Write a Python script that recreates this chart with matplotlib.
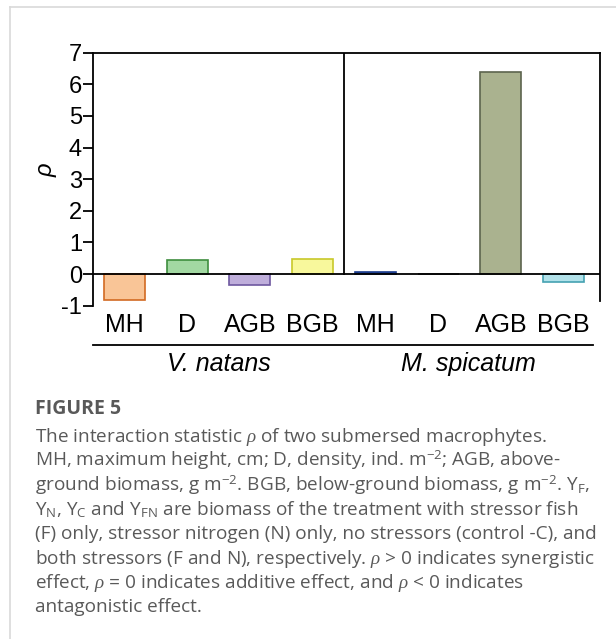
import matplotlib
matplotlib.use('Agg')
import matplotlib.pyplot as plt
from matplotlib.lines import Line2D

plt.rcParams['font.family'] = ['Liberation Sans', 'DejaVu Sans']
plt.rcParams['axes.unicode_minus'] = False
plt.rcParams['mathtext.fontset'] = 'custom'
plt.rcParams['mathtext.rm'] = 'Open Sans'
plt.rcParams['mathtext.it'] = 'Liberation Serif:italic'

# data
traits = ['MH', 'D', 'AGB', 'BGB', 'MH', 'D', 'AGB', 'BGB']
species = ['V. natans', 'M. spicatum']
rho = [-0.83, 0.43, -0.35, 0.48, 0.05, -0.01, 6.40, -0.24]
fills = ['#F9C597', '#A2D8A2', '#BFAEDB', '#F8F89C', '#2A4FA0', '#555555', '#AAB28F', '#B2E2EA']
edges = ['#D26A22', '#3E8E3E', '#6E58A0', '#C8C82A', '#1A3A8A', '#444444', '#5C644E', '#45A2B2']

caption = [
    r"The interaction statistic $\rho$ of two submersed macrophytes.",
    r"MH, maximum height, cm; D, density, ind. m$^{-2}$; AGB, above-",
    r"ground biomass, g m$^{-2}$. BGB, below-ground biomass, g m$^{-2}$. Y$_\mathrm{F}$,",
    r"Y$_\mathrm{N}$, Y$_\mathrm{C}$ and Y$_\mathrm{FN}$ are biomass of the treatment with stressor fish",
    r"(F) only, stressor nitrogen (N) only, no stressors (control -C), and",
    r"both stressors (F and N), respectively. $\rho$ > 0 indicates synergistic",
    r"effect, $\rho$ = 0 indicates additive effect, and $\rho$ < 0 indicates",
    r"antagonistic effect.",
]

W, H = 616, 639
fig = plt.figure(figsize=(W / 100, H / 100), dpi=100)

# card border (left and top edges)
fig.add_artist(Line2D([9.5 / W, 9.5 / W], [0, 1 - 7 / H], color='#d9d9d9', lw=1.2))
fig.add_artist(Line2D([9.5 / W, 1], [1 - 7 / H, 1 - 7 / H], color='#d9d9d9', lw=1.2))

ax = fig.add_axes([93 / W, 1 - 305.7 / H, (600 - 93) / W, (305.7 - 52.7) / H])
x = list(range(len(rho)))
ax.bar(x, rho, width=0.65, color=fills, edgecolor=edges, linewidth=1.2, zorder=2)

ax.set_xlim(-0.5, 7.58)
ax.set_ylim(-1, 7)
for s in ['bottom', 'right']:
    ax.spines[s].set_visible(False)
ax.spines['left'].set_linewidth(1.3)
ax.spines['top'].set_linewidth(1.3)

ax.axhline(0, color='black', lw=1.3, zorder=3)
ax.plot([3.5, 3.5], [0, 7], color='black', lw=1.3)
ax.plot([7.58, 7.58], [7, -0.85], color='black', lw=1.3, clip_on=False)

ax.set_yticks(range(-1, 8))
ax.tick_params(axis='y', direction='out', length=7, width=1.3, labelsize=17, pad=1)
ax.set_xticks(x)
ax.set_xticklabels(traits, fontsize=18)
ax.tick_params(axis='x', length=0, pad=5)

# species grouping line and labels
ax.plot([-0.5, 7.47], [-2.25, -2.25], color='black', lw=1.3, clip_on=False)
ax.text(1.5, -2.85, species[0], fontsize=18, style='italic', ha='center', va='center')
ax.text(5.48, -2.85, species[1], fontsize=18, style='italic', ha='center', va='center')

fig.text(46 / W, 1 - 170 / H, 'ρ', rotation=90, fontsize=17, style='italic',
         ha='center', va='center')

# caption
fig.text(35 / W, 1 - 414 / H, 'FIGURE 5', fontsize=14, weight='bold', color='#595959',
         family=['Open Sans', 'DejaVu Sans'], va='baseline')
for i, line in enumerate(caption):
    fig.text(35 / W, 1 - (442 + 24.3 * i) / H, line, fontsize=13.7, color='#595959',
             family=['Open Sans', 'DejaVu Sans'], va='baseline')

fig.savefig('out.png', dpi=100)
